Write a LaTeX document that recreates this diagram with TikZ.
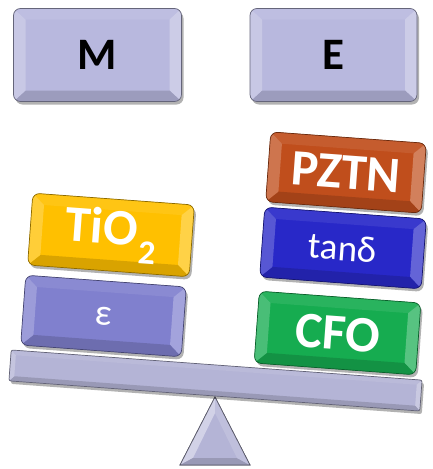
\documentclass[tikz,border=0pt]{standalone}
\usepackage{fontspec}
\setmainfont{Carlito}
\usetikzlibrary{shadows}
\definecolor{lav}{RGB}{184,184,222}
\definecolor{beamc}{RGB}{180,180,214}
\definecolor{goldc}{RGB}{255,192,0}
\definecolor{epsc}{RGB}{128,128,206}
\definecolor{rustc}{RGB}{192,78,28}
\definecolor{tanc}{RGB}{40,40,200}
\definecolor{cfoc}{RGB}{22,172,80}
\definecolor{edgec}{RGB}{90,90,105}
\def\bevx{12}\def\bevy{11}\def\bevr{7pt}
% #1 name, #2 cx, #3 cy, #4 angle, #5 w, #6 h, #7 colour, #8 text style, #9 text
\newcommand\bevbox[9]{%
\begin{scope}[shift={(#2,#3)}, rotate=#4]
\pgfmathsetmacro\bW{#5/2}\pgfmathsetmacro\bH{#6/2}%
\pgfmathsetmacro\bWi{#5/2-\bevx}\pgfmathsetmacro\bHi{#6/2-\bevy}%
\fill[#7, rounded corners=\bevr, drop shadow={shadow xshift=2pt, shadow yshift=-3pt, fill=black, opacity=0.3}] (-\bW,-\bH) rectangle (\bW,\bH);
\begin{scope}
\clip[rounded corners=\bevr] (-\bW,-\bH) rectangle (\bW,\bH);
\fill[#7!92!white] (-\bW,-\bH) -- (\bW,-\bH) -- (\bWi,-\bHi) -- (-\bWi,-\bHi) -- cycle;
\fill[#7!72!white] (\bW,-\bH) -- (\bW,\bH) -- (\bWi,\bHi) -- (\bWi,-\bHi) -- cycle;
\fill[#7!85!black] (\bW,\bH) -- (-\bW,\bH) -- (-\bWi,\bHi) -- (\bWi,\bHi) -- cycle;
\fill[#7!78!white] (-\bW,\bH) -- (-\bW,-\bH) -- (-\bWi,-\bHi) -- (-\bWi,\bHi) -- cycle;
\end{scope}
\node[draw=#7!55!black, line width=0.7pt, rounded corners=\bevr, minimum width=#5pt, minimum height=#6pt, inner sep=0pt, transform shape, #8] (#1) at (0,0) {#9};
\end{scope}}
\tikzset{
  keytxt/.style={font=\fontsize{45}{45}\selectfont\bfseries, text=black},
  bigtxt/.style={font=\fontsize{51}{51}\selectfont\bfseries, text=white},
  smalltxt/.style={font=\fontsize{37}{37}\selectfont, text=white}
}
\begin{document}
\begin{tikzpicture}[x=1pt,y=-1pt]
\useasboundingbox (0,0) rectangle (433,469);
\fill[white] (0,0) rectangle (433,469);
% fulcrum
\fill[beamc, draw=edgec, line width=0.7pt] (215,397) -- (250,465) -- (180,465) -- cycle;
\fill[beamc!60!white] (215,397) -- (180,465) -- (193,458) -- (215,413) -- cycle;
\fill[beamc!85!black] (180,465) -- (250,465) -- (237,458) -- (193,458) -- cycle;
\fill[beamc!85!white] (250,465) -- (215,397) -- (215,413) -- (237,458) -- cycle;
\draw[edgec, line width=0.7pt] (215,397) -- (250,465) -- (180,465) -- cycle;
% beam
{\def\bevx{5}\def\bevy{5}\def\bevr{2pt}
\bevbox{beam}{215.5}{380.5}{-4.2}{412}{31}{beamc}{}{}}
% top keys
\bevbox{M}{97.5}{55}{0}{168}{93}{lav}{keytxt}{M}
\bevbox{E}{333.5}{55}{0}{167}{93}{lav}{keytxt}{E}
% left pan
\bevbox{eps}{103.5}{316}{-4.2}{161}{70}{epsc}{smalltxt}{ε}
\bevbox{tio}{111}{235}{-4.2}{162}{72}{goldc}{bigtxt}{TiO\kern2pt\raisebox{-18pt}{\fontsize{34}{34}\selectfont 2}}
% right pan
\bevbox{cfo}{337.5}{333}{-4.2}{162}{72}{cfoc}{bigtxt}{CFO}
\bevbox{tan}{343}{248}{-4.2}{162}{70}{tanc}{smalltxt}{tanδ}
\bevbox{pztn}{346}{172.5}{-4.2}{156}{70}{rustc}{bigtxt}{PZTN}
\end{tikzpicture}
\end{document}
